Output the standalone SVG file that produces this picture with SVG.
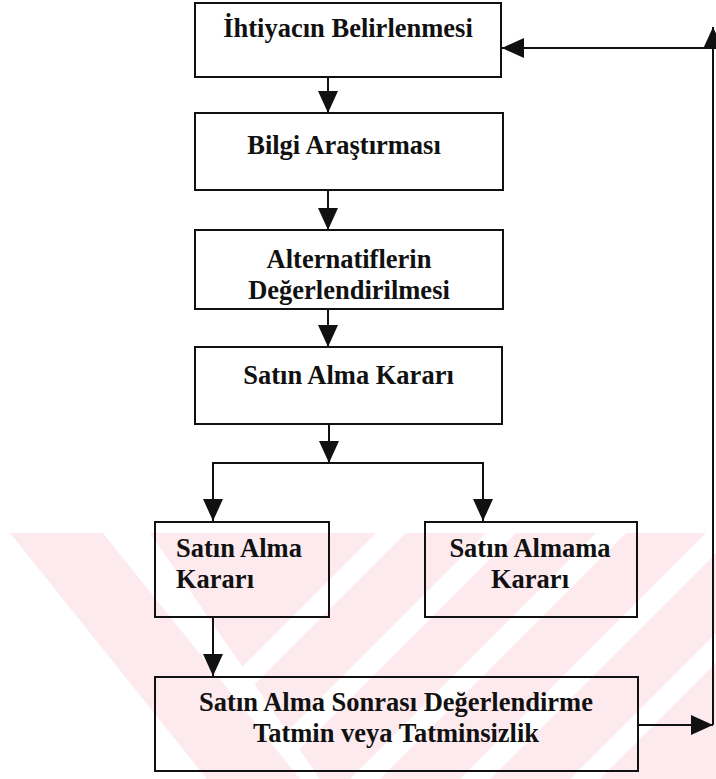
<svg xmlns="http://www.w3.org/2000/svg" width="716" height="779" viewBox="0 0 716 779">
<style>
.box{fill:none;stroke:#111;stroke-width:2}
.t{font-family:"Liberation Serif","Times New Roman",serif;font-weight:bold;font-size:26.5px;fill:#111}
.c{text-anchor:middle}
.ln{fill:none;stroke:#111;stroke-width:2}
.wm{fill:#fdeaee}
.wh{fill:#ffffff}
</style>
<defs>
<marker id="ah" viewBox="0 0 22 20" refX="22" refY="10" markerWidth="22" markerHeight="20" markerUnits="userSpaceOnUse" orient="auto">
<path d="M0,0 L22,10 L0,20 z" fill="#111"/>
</marker>
<clipPath id="wmclip"><rect x="0" y="533" width="716" height="246"/></clipPath>
</defs>
<rect width="716" height="779" fill="#fff"/>
<g id="watermark" clip-path="url(#wmclip)">
<polygon class="wm" points="150,533 716,533 716,779 320,779"/>
<g class="wh">
<polygon points="350,779 380,779 626,533 596,533"/>
<polygon points="460,779 490,779 736,533 706,533"/>
<polygon points="570,779 600,779 846,533 816,533"/>
<polygon points="240,779 270,779 516,533 486,533"/>
<polygon points="130,779 160,779 406,533 376,533"/>
</g>
<polygon class="wm" points="10,533 103,533 300,779 207,779"/>
</g>
<g id="connectors">
<line class="ln" x1="328" y1="77" x2="328" y2="113" marker-end="url(#ah)"/>
<line class="ln" x1="328" y1="190" x2="328" y2="230" marker-end="url(#ah)"/>
<line class="ln" x1="328" y1="309" x2="328" y2="347" marker-end="url(#ah)"/>
<line class="ln" x1="329" y1="424" x2="329" y2="463" marker-end="url(#ah)"/>
<polyline class="ln" points="213,521 213,463 483,463 483,521"/>
<line class="ln" x1="213" y1="470" x2="213" y2="521" marker-end="url(#ah)"/>
<line class="ln" x1="483" y1="470" x2="483" y2="521" marker-end="url(#ah)"/>
<line class="ln" x1="213" y1="617" x2="213" y2="676" marker-end="url(#ah)"/>
<line class="ln" x1="638" y1="725" x2="713" y2="725" marker-end="url(#ah)"/>
<line class="ln" x1="713" y1="725" x2="713" y2="27" marker-end="url(#ah)"/>
<line class="ln" x1="713" y1="48" x2="502" y2="48" marker-end="url(#ah)"/>
</g>
<g id="n1">
<rect class="box" x="195" y="3" width="306" height="74"/>
<text class="t c" x="348" y="37">İhtiyacın Belirlenmesi</text>
</g>
<g id="n2">
<rect class="box" x="195" y="113" width="308" height="77"/>
<text class="t c" x="344" y="154">Bilgi Araştırması</text>
</g>
<g id="n3">
<rect class="box" x="195" y="230" width="308" height="79"/>
<text class="t c" x="349" y="268">Alternatiflerin</text>
<text class="t c" x="349" y="299">Değerlendirilmesi</text>
</g>
<g id="n4">
<rect class="box" x="195" y="347" width="307" height="77"/>
<text class="t c" x="348.5" y="384">Satın Alma Kararı</text>
</g>
<g id="n5">
<rect class="box" x="155" y="522" width="174" height="95"/>
<text class="t" x="176" y="557">Satın Alma</text>
<text class="t" x="176" y="588">Kararı</text>
</g>
<g id="n6">
<rect class="box" x="425" y="522" width="212" height="95"/>
<text class="t c" x="530" y="557">Satın Almama</text>
<text class="t c" x="530" y="588">Kararı</text>
</g>
<g id="n7">
<rect class="box" x="155" y="677" width="483" height="94"/>
<text class="t c" x="396" y="711">Satın Alma Sonrası Değerlendirme</text>
<text class="t c" x="396" y="742">Tatmin veya Tatminsizlik</text>
</g>
</svg>
